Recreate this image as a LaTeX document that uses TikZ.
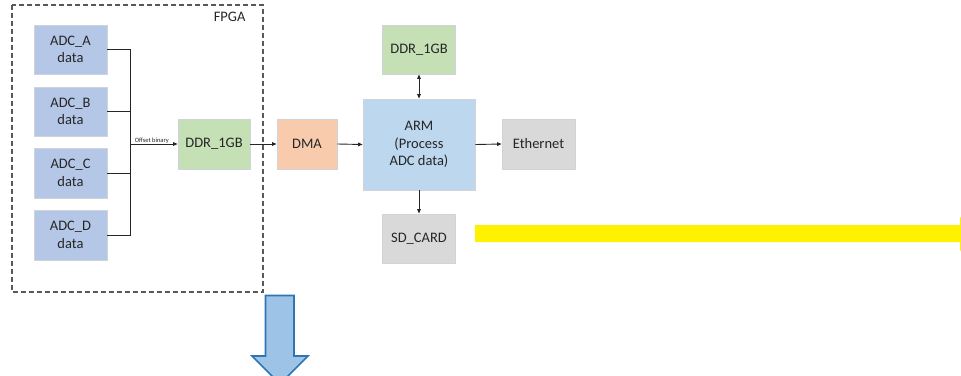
\documentclass[tikz,border=0pt]{standalone}
\usepackage{fontspec}
\setmainfont{Carlito}
\usetikzlibrary{arrows.meta}

\definecolor{adcblue}{HTML}{B4C7E7}
\definecolor{armblue}{HTML}{BDD7EE}
\definecolor{memgreen}{HTML}{C5E0B4}
\definecolor{dmaorange}{HTML}{F8CBAD}
\definecolor{periphgray}{HTML}{D9D9D9}
\definecolor{edgegray}{HTML}{D0D4DA}
\definecolor{framegray}{HTML}{595959}
\definecolor{wirecolor}{HTML}{262626}
\definecolor{bigarrowfill}{HTML}{9DC3E6}
\definecolor{bigarrowedge}{HTML}{2E75B6}
\definecolor{textdark}{HTML}{262626}

\tikzset{
  blockbox/.style={draw=edgegray, line width=0.8pt, inner sep=0pt, align=center,
    text=textdark, font=\fontsize{14.5}{17.5}\selectfont},
  adcbox/.style={blockbox, fill=adcblue, minimum width=73pt, minimum height=49pt},
  membox/.style={blockbox, fill=memgreen, minimum width=73pt, minimum height=49pt},
  wire/.style={draw=wirecolor, line width=0.9pt},
  link/.style={wire, -{Triangle[length=4.5pt,width=3.6pt]}},
  biglink/.style={wire, {Triangle[length=4.5pt,width=3.6pt]}-{Triangle[length=4.5pt,width=3.6pt]}},
}

\begin{document}
\begin{tikzpicture}[x=1pt,y=-1pt]
  \useasboundingbox (0,0) rectangle (961,375);
  \clip (0,0) rectangle (961,375);

  % FPGA frame
  \draw[framegray, line width=1.1pt, dash pattern=on 5pt off 3pt] (12,5) rectangle (263,292);
  \node[anchor=east, text=textdark, font=\fontsize{14.5}{17.5}\selectfont] (fpga) at (249,17) {FPGA};

  % ADC sources
  \node[adcbox] (adcA) at (70.5,49.5) {ADC\_A\\data};
  \node[adcbox] (adcB) at (70.5,111.5) {ADC\_B\\data};
  \node[adcbox, minimum height=50pt] (adcC) at (70.5,173) {ADC\_C\\data};
  \node[adcbox, minimum height=50pt] (adcD) at (70.5,235) {ADC\_D\\data};

  % FPGA memory and the rest of the chain
  \node[membox, minimum width=72pt, minimum height=50pt] (ddrF) at (214,144) {DDR\_1GB};
  \node[blockbox, fill=dmaorange, minimum width=60pt, minimum height=50pt] (dma) at (307,144) {DMA};
  \node[blockbox, fill=armblue, minimum width=112pt, minimum height=91pt] (arm) at (419,144.5) {ARM\\(Process\\ADC data)};
  \node[membox] (ddrT) at (419,49.5) {DDR\_1GB};
  \node[blockbox, fill=periphgray, minimum width=73pt, minimum height=50pt] (eth) at (538.5,144) {Ethernet};
  \node[blockbox, fill=periphgray, minimum width=73pt, minimum height=49pt] (sd) at (419,238.5) {SD\_CARD};

  % Bus collecting the four ADC streams
  \coordinate (busTop) at (130,49.5);
  \coordinate (busBot) at (130,235);
  \coordinate (bus) at (130,144);
  \draw[wire] (adcA.east) -- (busTop) -- (busBot) -- (adcD.east);
  \draw[wire] (adcB.east) -- (adcB.east -| bus);
  \draw[wire] (adcC.east) -- (adcC.east -| bus);
  \draw[link] (bus) -- node[above=-0.5pt, inner sep=1pt, text=textdark, font=\fontsize{6.5}{7}\selectfont, xshift=-2pt] (obin) {Offset binary} (ddrF.west);

  % Data path
  \draw[link] (ddrF.east) -- (dma.west);
  \draw[link] (dma.east) -- (arm.west);
  \draw[link] (arm.east) -- (eth.west);
  \draw[biglink] (ddrT.south) -- (arm.north);
  \draw[link] (arm.south) -- (sd.north);

  % Yellow arrow running off the right edge
  \fill[yellow] (475,225) -- (960,225) -- (960,217) -- (977,234) -- (960,251) -- (960,242) -- (475,242) -- cycle;

  % Blue block arrow pointing down
  \draw[draw=bigarrowedge, fill=bigarrowfill, line width=1.6pt, line join=miter]
    (265.5,295.5) -- (294,295.5) -- (294,356) -- (308,356) -- (280,384) -- (252,356) -- (265.5,356) -- cycle;
\end{tikzpicture}
\end{document}
